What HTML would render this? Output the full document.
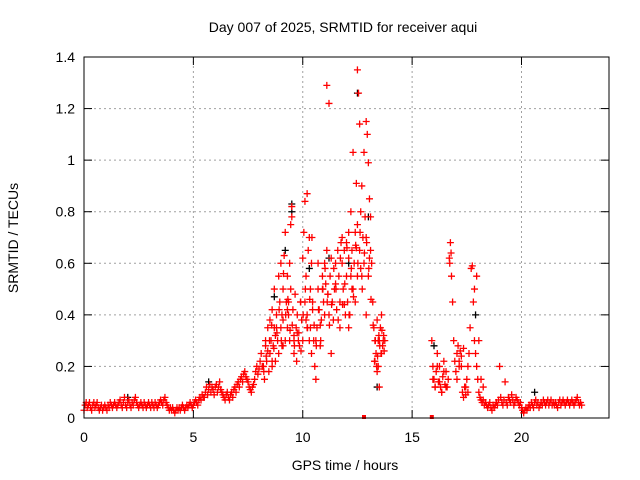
<!DOCTYPE html>
<html><head><meta charset="utf-8"><style>
body{margin:0;background:#fff;}
svg{display:block;font-family:"Liberation Sans",sans-serif;}
</style></head><body>
<svg id="chart" width="640" height="480">
<rect x="0" y="0" width="640" height="480" fill="#fff"/>
<text x="343" y="32" font-size="14" text-anchor="middle">Day 007 of 2025, SRMTID for receiver aqui</text>
<text x="345" y="470" font-size="14" text-anchor="middle">GPS time / hours</text>
<text transform="translate(18,238) rotate(-90)" font-size="14" text-anchor="middle">SRMTID / TECUs</text>
<g id="grid"></g><g id="ticks"></g><g id="marks"></g>
<rect x="84" y="57" width="525" height="361" fill="none" stroke="#000" stroke-width="1"/>
</svg>
<script>
const xTicks=[0,5,10,15,20];
const yTicks=[0,0.2,0.4,0.6,0.8,1,1.2,1.4];
const yTickLabels=["0","0.2","0.4","0.6","0.8","1","1.2","1.4"];
const baseStart=0, baseStep=0.05;
const baseValues=[0.03,0.05,0.06,0.04,0.05,0.06,0.04,0.03,0.05,0.06,0.04,0.05,0.06,0.04,0.03,0.04,0.05,0.03,0.04,0.05,
0.04,0.03,0.05,0.04,0.06,0.05,0.04,0.05,0.06,0.05,0.04,0.05,0.06,0.07,0.05,0.04,0.06,0.08,0.05,0.04,
0.06,0.07,0.05,0.04,0.06,0.05,0.07,0.08,0.06,0.05,0.04,0.05,0.06,0.05,0.04,0.06,0.05,0.04,0.05,0.06,
0.05,0.04,0.06,0.05,0.04,0.06,0.05,0.04,0.05,0.06,0.07,0.06,0.05,0.07,0.08,0.06,0.05,0.04,0.03,0.04,
0.03,0.04,0.03,0.02,0.03,0.04,0.03,0.04,0.03,0.04,0.05,0.04,0.03,0.04,0.05,0.04,0.05,0.06,0.05,0.04,
0.05,0.06,0.07,0.06,0.05,0.07,0.08,0.07,0.09,0.08];
const riseStart=5.5, riseStep=0.05;
const riseValues=[0.08,0.1,0.12,0.09,0.11,0.13,0.1,0.12,0.11,0.09,0.12,0.13,0.1,0.12,0.14,0.11,0.1,0.09,0.08,0.07,
0.09,0.1,0.08,0.07,0.09,0.1,0.08,0.11,0.12,0.1,0.13,0.14,0.12,0.15,0.16,0.14,0.17,0.18,0.16,0.15,
0.14,0.12,0.11,0.1,0.12,0.13,0.15,0.18,0.2,0.17,0.19,0.22,0.25,0.2];
const activeTimes=[8.2,8.25,8.3,8.35,8.4,8.45,8.5,8.5,8.55,8.6,8.6,8.65,8.7,8.7,8.75,8.8,8.85,8.9,8.9,8.95,
9.0,9.0,9.05,9.1,9.1,9.15,9.2,9.2,9.25,9.3,9.3,9.35,9.4,9.4,9.45,9.5,9.5,9.55,9.6,9.6,
9.65,9.7,9.75,9.8,9.85,9.9,9.95,10.0,10.0,10.05,10.1,10.1,10.15,10.2,10.2,10.25,10.3,10.3,10.35,10.4,
10.4,10.45,10.5,10.55,10.6,10.65,10.7,10.75,10.8,10.85,10.9,10.95,11.0,11.0,11.05,11.1,11.1,11.15,11.2,11.2,
11.25,11.3,11.35,11.4,11.45,11.5,11.55,11.6,11.65,11.7,11.75,11.8,11.85,11.9,11.95,12.0,12.0,12.05,12.1,12.1,
12.15,12.2,12.2,12.25,12.3,12.3,12.35,12.4,12.4,12.45,12.5,12.5,12.55,12.6,12.6,12.65,12.7,12.7,12.75,12.8,
12.8,12.85,12.9,12.9,12.95,13.0,13.0,13.05,13.1,13.1,13.15,13.2,13.25,13.3,13.35,13.4,13.45,13.5,13.55,13.6,
13.65,13.7,13.75,13.3,13.4,13.5,13.6,8.3,8.6,8.8,9.1,9.3,9.6,9.9,10.2,10.6,10.9,11.3,11.7,12.1,12.5,12.9,
8.4,8.75,9.05,9.35,9.75,10.15,10.45,10.8,11.15,11.5,11.9,12.25,12.65,13.05,13.45,9.45,10.35,10.7,11.8,12.45];
const activeValues=[0.2,0.15,0.28,0.22,0.35,0.18,0.38,0.25,0.3,0.2,0.42,0.28,0.35,0.5,0.22,0.4,0.3,0.55,0.25,0.45,
0.35,0.6,0.28,0.5,0.38,0.63,0.3,0.72,0.45,0.55,0.35,0.4,0.6,0.3,0.5,0.82,0.78,0.42,0.3,0.25,
0.48,0.35,0.4,0.3,0.28,0.45,0.38,0.62,0.3,0.72,0.45,0.84,0.55,0.87,0.4,0.65,0.3,0.7,0.5,0.6,
0.25,0.45,0.3,0.2,0.15,0.35,0.5,0.42,0.28,0.38,0.55,0.45,0.4,0.6,0.52,1.29,0.65,0.48,1.22,0.4,
0.55,0.62,0.45,0.38,0.5,0.6,0.42,0.65,0.55,0.35,0.68,0.6,0.5,0.65,0.4,0.55,0.68,0.45,0.62,0.72,
0.4,0.55,0.8,0.65,1.03,0.5,0.6,0.45,0.72,0.91,1.35,0.75,1.26,1.14,0.65,0.8,0.55,0.9,0.7,1.03,
0.6,0.78,1.15,0.7,1.1,0.99,0.55,0.85,0.78,0.65,0.6,0.45,0.35,0.3,0.25,0.38,0.2,0.3,0.35,0.25,
0.28,0.32,0.3,0.22,0.18,0.12,0.4,0.3,0.22,0.35,0.28,0.42,0.32,0.45,0.35,0.3,0.5,0.25,0.45,0.35,0.55,0.4,
0.26,0.32,0.4,0.45,0.33,0.38,0.42,0.36,0.48,0.52,0.44,0.5,0.58,0.62,0.3,0.75,0.35,0.6,0.7,0.66];
// additional active-period points
const active2Times=[8.22,8.33,8.48,8.58,8.68,8.82,8.92,9.02,9.12,9.22,9.32,9.42,9.52,9.62,9.72,9.82,9.92,10.02,10.12,10.22,
10.32,10.42,10.52,10.62,10.72,10.82,10.92,11.02,11.12,11.22,11.32,11.42,11.52,11.62,11.72,11.82,11.92,12.02,12.12,12.22,
12.32,12.42,12.52,12.62,12.72,12.82,12.92,13.02,13.12,13.22,13.32,13.42,13.52,13.62,13.72,13.38,13.48,13.58,13.68,13.28];
const active2Values=[0.18,0.24,0.3,0.36,0.27,0.33,0.42,0.3,0.56,0.4,0.46,0.34,0.36,0.28,0.22,0.33,0.26,0.4,0.5,0.35,
0.46,0.7,0.36,0.28,0.42,0.3,0.5,0.58,0.45,0.36,0.44,0.58,0.5,0.38,0.62,0.44,0.52,0.66,0.4,0.58,
0.47,0.67,0.6,0.72,0.5,0.64,0.68,0.58,0.46,0.36,0.3,0.24,0.28,0.34,0.26,0.2,0.32,0.25,0.3,0.22];
const lateStart=15.9, lateStep=0.05;
const lateValues=[0.3,0.2,0.15,0.12,0.18,0.25,0.14,0.2,0.12,0.1,0.16,0.22,0.13,0.18,0.12,0.15,0.62,0.68,0.55,0.45,
0.3,0.22,0.18,0.25,0.28,0.22,0.26,0.2,0.1,0.08,0.12,0.09,0.15,0.2,0.25,0.35,0.58,0.59,0.45,0.3,
0.25,0.2,0.15,0.1,0.08,0.07,0.06,0.07,0.05,0.06,0.05,0.04,0.05,0.06,0.04,0.03,0.05,0.04,0.05,0.06,
0.05,0.07,0.2,0.08,0.06,0.05,0.07,0.14,0.06,0.05,0.08,0.07,0.06,0.09,0.07,0.05,0.06,0.08,0.07,0.06,
0.05,0.06,0.04,0.03,0.02,0.03,0.04,0.03,0.04,0.05,0.04,0.06,0.05,0.04,0.06,0.07,0.05,0.06,0.04,0.05,
0.06,0.05,0.07,0.06,0.05,0.06,0.07,0.05,0.06,0.07,0.05,0.06,0.05,0.06,0.05,0.04,0.06,0.07,0.05,0.06,0.07,0.06,0.05,0.06,0.07,0.06,0.05,0.06,0.07,0.06,0.05,0.06,0.07,0.08,0.06,0.05,0.06,0.05];
const late2Times=[15.95,16.05,16.15,16.25,16.35,16.45,16.55,16.72,16.78,17.05,17.15,17.25,17.35,17.45,17.55,17.85,17.95,18.05,18.15,18.25];
const late2Values=[0.15,0.12,0.2,0.14,0.1,0.18,0.12,0.6,0.64,0.15,0.2,0.24,0.27,0.12,0.1,0.5,0.55,0.3,0.15,0.12];
const extraTimes=[12.8,15.9];
const extraValues=[0,0];
const blackTimes=[2.0,5.7,8.7,9.2,9.5,9.5,10.3,11.2,12.1,12.5,13.0,13.4,16.0,17.9,20.6];
const blackValues=[0.08,0.14,0.47,0.65,0.83,0.8,0.58,0.62,0.6,1.26,0.78,0.12,0.28,0.4,0.1];

const X0=84,X1=609,Y0=418,Y1=57;
const xs=t=>X0+t/24*(X1-X0);
const ys=v=>Y0-v/1.4*(Y0-Y1);
const NS='http://www.w3.org/2000/svg';
const grid=document.getElementById('grid'),ticks=document.getElementById('ticks'),marks=document.getElementById('marks');
function mk(tag,attrs,parent){const e=document.createElementNS(NS,tag);for(const k in attrs)e.setAttribute(k,attrs[k]);parent.appendChild(e);return e;}
yTicks.forEach((v,i)=>{
 const y=ys(v);
 if(i>0&&i<yTicks.length-1){const g=mk('line',{x1:X0,x2:X1,y1:y,y2:y,stroke:'#a0a0a0','stroke-dasharray':'2,3'},grid);
 
 }
 mk('line',{x1:X0,x2:X0+8,y1:y,y2:y,stroke:'#000'},ticks);
 mk('line',{x1:X1,x2:X1-8,y1:y,y2:y,stroke:'#000'},ticks);
 const t=mk('text',{x:X0-9,y:y+5,'font-size':14,'text-anchor':'end'},ticks);t.textContent=yTickLabels[i];
 
 
});
xTicks.forEach(v=>{
 const x=xs(v);
 if(v>0){const g=mk('line',{x1:x,x2:x,y1:Y0,y2:Y1,stroke:'#a0a0a0','stroke-dasharray':'2,3'},grid);
 
 }
 mk('line',{x1:x,x2:x,y1:Y0,y2:Y0-8,stroke:'#000'},ticks);
 mk('line',{x1:x,x2:x,y1:Y1,y2:Y1+8,stroke:'#000'},ticks);
 const t=mk('text',{x:x,y:Y0+24,'font-size':14,'text-anchor':'middle'},ticks);t.textContent=String(v);
 
 
});
function plus(t,v,color,name){
 const x=xs(t),y=ys(v);
 const p=mk('path',{d:`M${x-3.5},${y}H${x+3.5}M${x},${y-3.5}V${y+3.5}`,stroke:color,'stroke-width':1.3,fill:'none'},marks);
 
 
}
blackTimes.forEach((t,i)=>plus(t,blackValues[i],'#000','black-point'));
baseValues.forEach((v,i)=>plus(baseStart+i*baseStep,v,'#f00','red-point'));
riseValues.forEach((v,i)=>plus(riseStart+i*riseStep,v,'#f00','red-point'));
activeTimes.forEach((t,i)=>plus(t,activeValues[i],'#f00','red-point'));
active2Times.forEach((t,i)=>plus(t,active2Values[i],'#f00','red-point'));
lateValues.forEach((v,i)=>plus(lateStart+i*lateStep,v,'#f00','red-point'));
late2Times.forEach((t,i)=>plus(t,late2Values[i],'#f00','red-point'));
extraTimes.forEach((t,i)=>{const r=mk('rect',{x:xs(t)-2,y:ys(extraValues[i])-3,width:4,height:4,fill:'#f00'},marks);
 
 });
</script>
</body></html>
